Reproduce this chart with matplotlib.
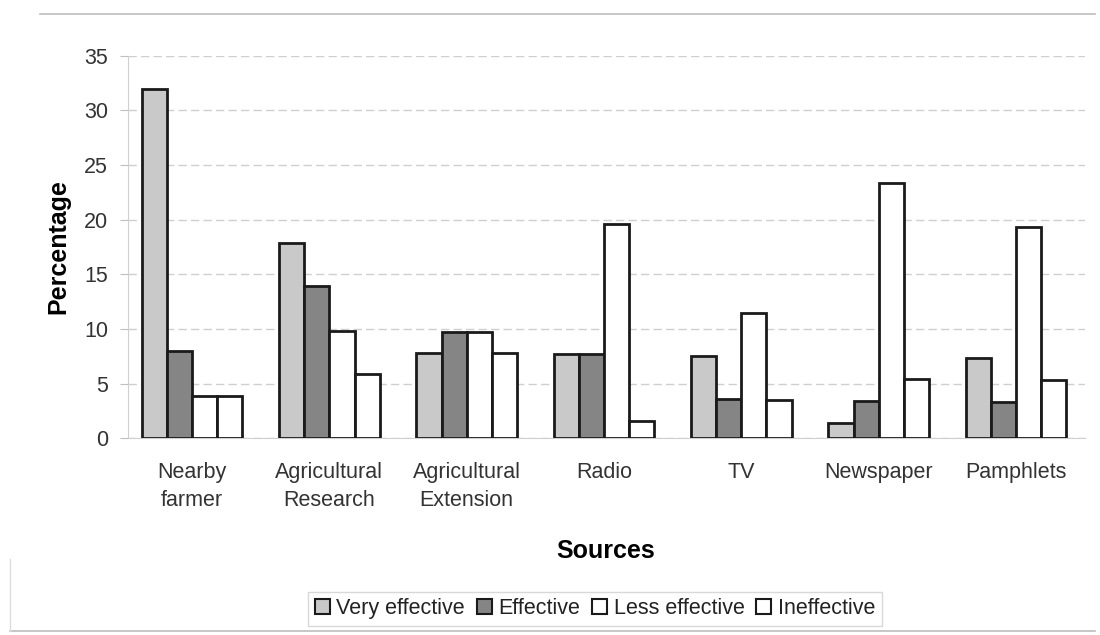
import matplotlib
matplotlib.use("Agg")
import matplotlib.pyplot as plt
import numpy as np
from matplotlib.lines import Line2D

plt.rcParams['font.family'] = ['Liberation Sans', 'DejaVu Sans']

sources = ["Nearby\nfarmer", "Agricultural\nResearch", "Agricultural\nExtension",
           "Radio", "TV", "Newspaper", "Pamphlets"]
series_names = ["Very effective", "Effective", "Less effective", "Ineffective"]
very_effective = [32.0, 17.9, 7.8, 7.7, 7.5, 1.4, 7.3]
effective = [8.0, 13.9, 9.7, 7.7, 3.6, 3.4, 3.3]
less_effective = [3.9, 9.8, 9.7, 19.6, 11.5, 23.4, 19.3]
ineffective = [3.9, 5.9, 7.8, 1.6, 3.5, 5.4, 5.3]
y_ticks = [0, 5, 10, 15, 20, 25, 30, 35]

series = [very_effective, effective, less_effective, ineffective]
fills = ["#c9c9c9", "#858585", "#ffffff", "#ffffff"]

fig = plt.figure(figsize=(11, 6.35), dpi=100)
ax = fig.add_axes([0.116, 0.310, 0.870, 0.602])

x = np.arange(len(sources))
w = 0.183
for i, (vals, fc) in enumerate(zip(series, fills)):
    ax.bar(x + (i - 1.5) * w, vals, width=w, color=fc, edgecolor="#1a1a1a",
           linewidth=2.0, label=series_names[i], zorder=3)

ax.set_ylim(0, 35)
ax.set_xlim(-0.47, 6.5)
ax.set_yticks(y_ticks)
ax.yaxis.grid(True, color="#cfcfcf", linewidth=1.0, linestyle=(0, (6, 3)), zorder=0)
ax.set_axisbelow(True)
for s in ["top", "right"]:
    ax.spines[s].set_visible(False)
ax.spines["left"].set_color("#d0d0d0")
ax.spines["bottom"].set_color("#d0d0d0")
ax.tick_params(axis="y", length=6, color="#c0c0c0", labelsize=15.5, labelcolor="#333333", pad=8)
ax.tick_params(axis="x", length=0, labelsize=15.5, labelcolor="#333333", pad=17)
ax.set_xticks(x)
ax.set_xticklabels(sources, linespacing=1.45)

ax.set_ylabel("Percentage", fontsize=18, fontweight="bold", labelpad=10)
ax.set_xlabel("Sources", fontsize=18, fontweight="bold", labelpad=20)

handles = [plt.Rectangle((0, 0), 1, 1, facecolor=fc, edgecolor="#1a1a1a", linewidth=1.5)
           for fc in fills]
leg = fig.legend(handles, series_names, loc="center", bbox_to_anchor=(0.541, 0.041),
                 ncol=4, frameon=True, fontsize=15.5, handlelength=0.7, handleheight=0.7,
                 handletextpad=0.3, columnspacing=0.55, borderpad=0.3, fancybox=False)
leg.get_frame().set_edgecolor("#cfcfcf")
leg.get_frame().set_linewidth(1.0)
for t in leg.get_texts():
    t.set_color("#222222")

# outer frame lines
fig.add_artist(Line2D([0.036, 0.995], [0.978, 0.978], color="#bdbdbd", linewidth=1.2,
                      transform=fig.transFigure))
fig.add_artist(Line2D([0.009, 0.995], [0.006, 0.006], color="#bdbdbd", linewidth=1.2,
                      transform=fig.transFigure))
fig.add_artist(Line2D([0.009, 0.009], [0.006, 0.12], color="#dddddd", linewidth=1.0,
                      transform=fig.transFigure))

fig.savefig("out.png", dpi=100, facecolor="white")
